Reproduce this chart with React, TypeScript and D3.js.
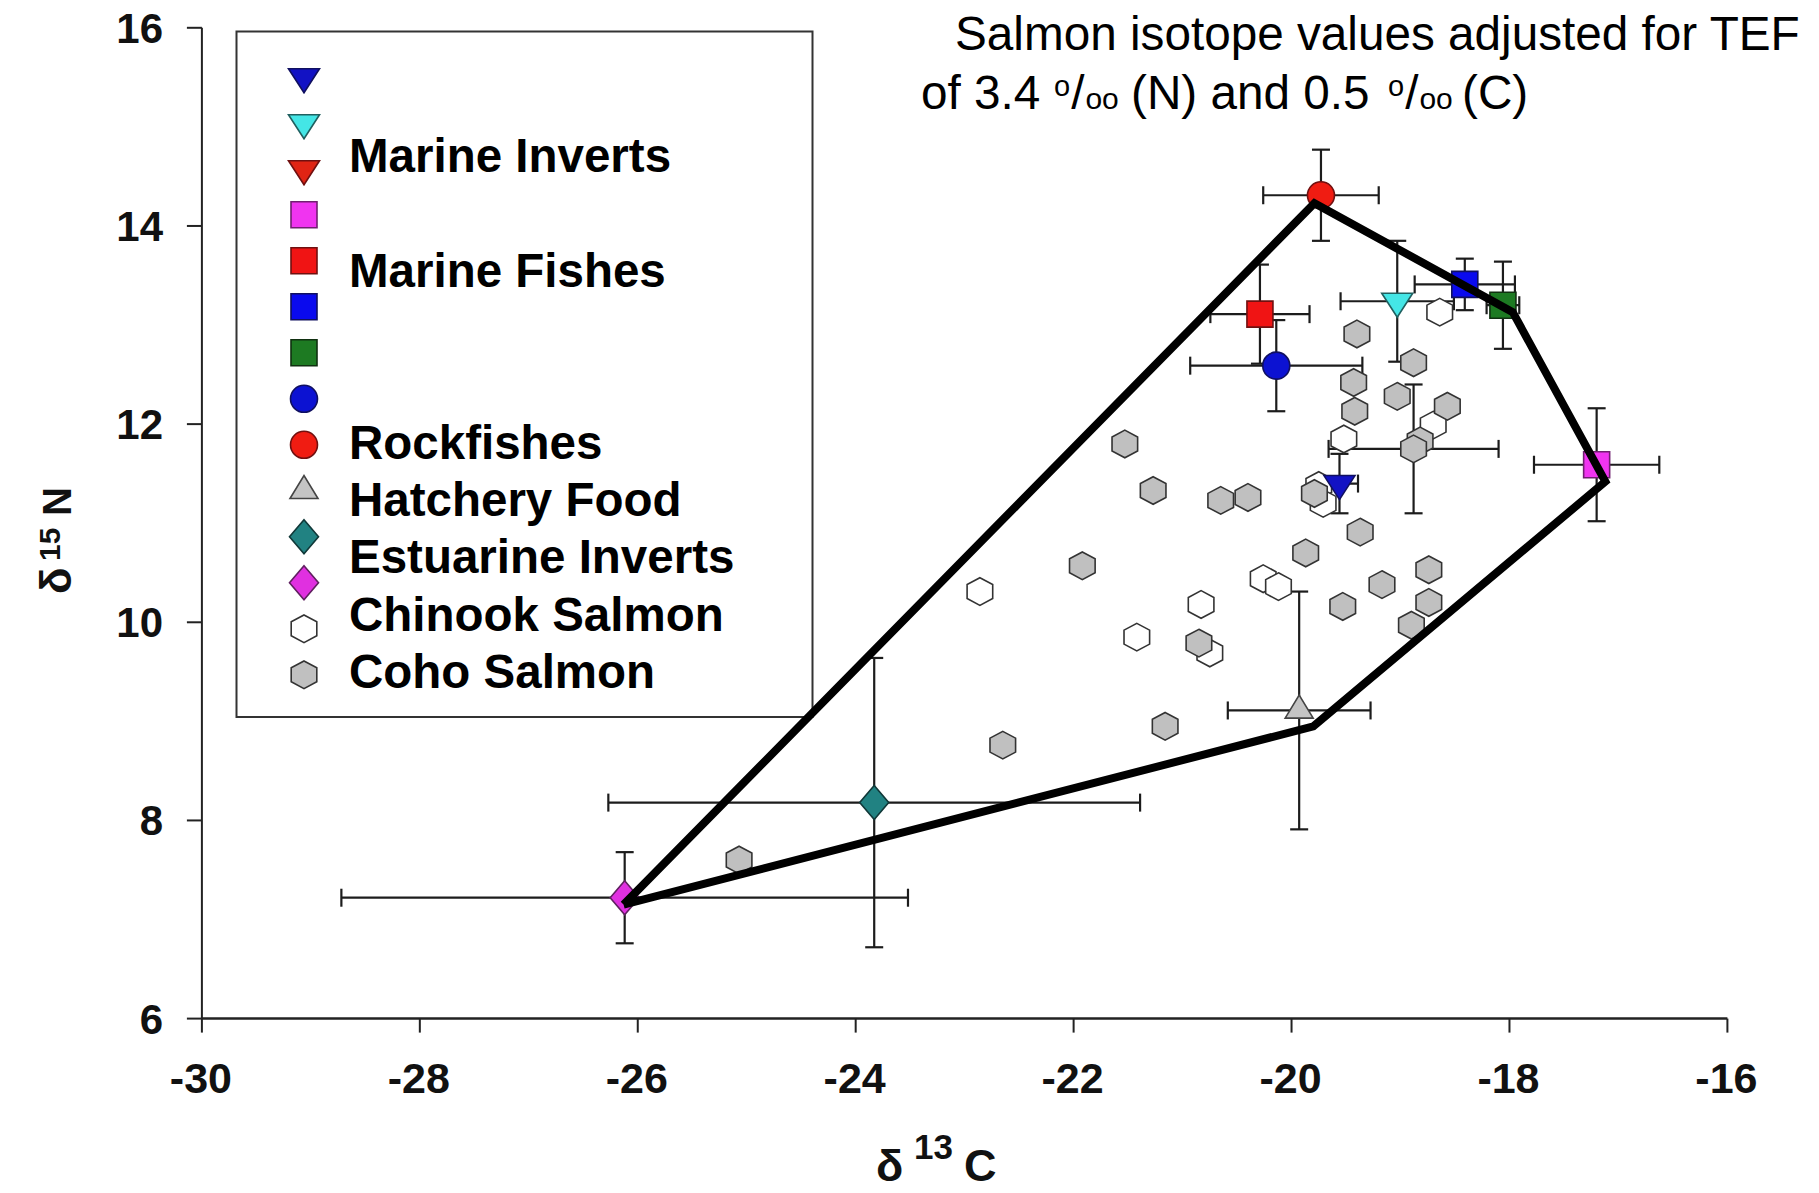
import React from "react";
import * as d3 from "d3";

// ---------- DATA ----------
const xTicks = [-30, -28, -26, -24, -22, -20, -18, -16];
const yTicks = [6, 8, 10, 12, 14, 16];

// Coho salmon (grey hexagons): d13C, d15N
const cohoC = [-19.40, -18.88, -19.43, -19.42, -19.03, -18.57, -18.82, -21.53, -21.27, -20.65, -20.40, -19.79, -19.37, -19.87, -21.92, -18.74, -19.17, -19.53, -18.74, -18.90, -20.85, -21.16, -22.65, -25.07];
const cohoN = [12.91, 12.62, 12.42, 12.13, 12.28, 12.18, 11.83, 11.80, 11.33, 11.23, 11.26, 11.30, 10.91, 10.70, 10.57, 10.53, 10.38, 10.16, 10.20, 9.97, 9.79, 8.95, 8.76, 7.60];
// Coho point carrying error bars
const cohoMeanC = [-18.88];
const cohoMeanCsd = [0.78];
const cohoMeanN = [11.75];
const cohoMeanNsd = [0.65];

// Chinook salmon (white hexagons)
const chinookC = [-18.64, -18.70, -19.52, -19.75, -19.71, -20.26, -20.12, -20.83, -22.86, -21.42, -20.75];
const chinookN = [13.13, 11.99, 11.85, 11.38, 11.20, 10.44, 10.36, 10.18, 10.31, 9.85, 9.69];

// Prey sources (mean +/- SD)
const sourceKeys = ["invBlue", "invCyan", "fishMagenta", "fishRed", "fishBlue", "fishGreen", "rockBlue", "rockRed", "hatchery", "estTeal", "estMagenta"];
const sourceC = [-19.56, -19.03, -17.20, -20.29, -18.41, -18.06, -20.14, -19.73, -19.93, -23.83, -26.12];
const sourceCsd = [0.17, 0.52, 0.575, 0.455, 0.46, 0.15, 0.79, 0.53, 0.655, 2.44, 2.6];
const sourceN = [11.40, 13.24, 11.59, 13.11, 13.41, 13.20, 12.59, 14.31, 9.11, 8.18, 7.22];
const sourceNsd = [0.30, 0.61, 0.57, 0.50, 0.26, 0.44, 0.46, 0.46, 1.20, 1.46, 0.46];

// Mixing polygon vertices
const hullC = [-26.13, -19.79, -17.97, -17.12, -19.80, -26.13];
const hullN = [7.15, 14.23, 13.13, 11.42, 8.95, 7.15];

// Legend
const legendKeys = ["invBlue", "invCyan", "invRed", "fishMagenta", "fishRed", "fishBlue", "fishGreen", "rockBlue", "rockRed", "hatchery", "estTeal", "estMagenta", "chinook", "coho"];
const legendLabels = ["Marine Inverts", "Marine Fishes", "Rockfishes", "Hatchery Food", "Estuarine Inverts", "Chinook Salmon", "Coho Salmon"];

// ---------- STYLES ----------
const styleOf: Record<string, { shape: string; fill: string; stroke: string }> = {
  invBlue: { shape: "triDown", fill: "#1212c4", stroke: "#101060" },
  invCyan: { shape: "triDown", fill: "#44e6e6", stroke: "#206060" },
  invRed: { shape: "triDown", fill: "#e02414", stroke: "#701010" },
  fishMagenta: { shape: "square", fill: "#f034f0", stroke: "#702070" },
  fishRed: { shape: "square", fill: "#f01414", stroke: "#701010" },
  fishBlue: { shape: "square", fill: "#0a0aee", stroke: "#101060" },
  fishGreen: { shape: "square", fill: "#1d7a22", stroke: "#103010" },
  rockBlue: { shape: "circle", fill: "#0c12d2", stroke: "#101060" },
  rockRed: { shape: "circle", fill: "#f01c12", stroke: "#701010" },
  hatchery: { shape: "triUp", fill: "#c4c4c4", stroke: "#444" },
  estTeal: { shape: "diamond", fill: "#218282", stroke: "#103838" },
  estMagenta: { shape: "diamond", fill: "#e030e0", stroke: "#602060" },
  chinook: { shape: "hex", fill: "#ffffff", stroke: "#333" },
  coho: { shape: "hex", fill: "#c0c0c0", stroke: "#333" },
};

function shapePath(shape: string, cx: number, cy: number): string {
  switch (shape) {
    case "triDown": {
      const w = 15.5, h = 24;
      return `M${cx - w},${cy - h / 3}L${cx + w},${cy - h / 3}L${cx},${cy + (2 * h) / 3}Z`;
    }
    case "triUp": {
      const w = 14, h = 23;
      return `M${cx - w},${cy + h / 3}L${cx + w},${cy + h / 3}L${cx},${cy - (2 * h) / 3}Z`;
    }
    case "square": {
      const s = 13;
      return `M${cx - s},${cy - s}H${cx + s}V${cy + s}H${cx - s}Z`;
    }
    case "diamond": {
      const w = 14.5, h = 17;
      return `M${cx},${cy - h}L${cx + w},${cy}L${cx},${cy + h}L${cx - w},${cy}Z`;
    }
    case "hex": {
      const w = 12.8, h = 13.8, s = 7;
      return `M${cx},${cy - h}L${cx + w},${cy - s}L${cx + w},${cy + s}L${cx},${cy + h}L${cx - w},${cy + s}L${cx - w},${cy - s}Z`;
    }
    case "circle":
    default: {
      const r = 13.5;
      return `M${cx - r},${cy}a${r},${r} 0 1,0 ${2 * r},0a${r},${r} 0 1,0 ${-2 * r},0Z`;
    }
  }
}

function Marker({ k, cx, cy }: { k: string; cx: number; cy: number }) {
  const st = styleOf[k];
  return <path d={shapePath(st.shape, cx, cy)} fill={st.fill} stroke={st.stroke} strokeWidth={1.6} />;
}

function ErrorBar({ cx, cy, x0, x1, y0, y1 }: { cx: number; cy: number; x0: number; x1: number; y0: number; y1: number }) {
  const cap = 9;
  const c = "#1c1c1c";
  return (
    <g stroke={c} strokeWidth={2.2} fill="none">
      <line x1={x0} x2={x1} y1={cy} y2={cy} />
      <line x1={x0} x2={x0} y1={cy - cap} y2={cy + cap} />
      <line x1={x1} x2={x1} y1={cy - cap} y2={cy + cap} />
      <line x1={cx} x2={cx} y1={y0} y2={y1} />
      <line x1={cx - cap} x2={cx + cap} y1={y0} y2={y0} />
      <line x1={cx - cap} x2={cx + cap} y1={y1} y2={y1} />
    </g>
  );
}

export default function App() {
  const W = 1819, H = 1193;
  const x = d3.scaleLinear().domain([-30, -16]).range([201.9, 1727.4]);
  const y = d3.scaleLinear().domain([6, 16]).range([1018.6, 27.8]);
  const font = "'Liberation Sans', Arial, Helvetica, sans-serif";

  const hullPts: [number, number][] = hullC.map((c, i) => [x(c), y(hullN[i])]);
  const hullPath = d3.line()(hullPts) || "";

  // legend layout
  const legX = 304, legY0 = 76.8, legStep = 46;
  const labelX = 349;
  const labelBaselines = [171.5, 286.5, 458.5, 516, 573, 631, 688];

  const permil = (key: string, x0: number) => [
    <tspan key={key + "a"} x={x0} fontSize={29} dy={-13}>o</tspan>,
    <tspan key={key + "b"} dy={13} dx={1}>/</tspan>,
    <tspan key={key + "c"} fontSize={30} dx={1}>oo</tspan>,
  ];

  return (
    <div style={{ position: "absolute", left: 0, top: 0, width: W, height: H, background: "#fff" }}>
      <svg width={W} height={H} style={{ display: "block" }} fontFamily={font}>
        <rect x={0} y={0} width={W} height={H} fill="#fff" />

        {/* axes */}
        <line x1={x(-30)} x2={x(-30)} y1={y(16)} y2={y(6)} stroke="#222" strokeWidth={2} />
        <line x1={x(-30)} x2={x(-16)} y1={y(6)} y2={y(6)} stroke="#222" strokeWidth={2.5} />
        {yTicks.map((t) => (
          <g key={"yt" + t}>
            <line x1={x(-30) - 15} x2={x(-30)} y1={y(t)} y2={y(t)} stroke="#222" strokeWidth={2} />
            <text x={163} y={y(t) + 15} textAnchor="end" fontSize={42} fontWeight="bold" fill="#111">{t}</text>
          </g>
        ))}
        {xTicks.map((t) => (
          <g key={"xt" + t}>
            <line x1={x(t)} x2={x(t)} y1={y(6)} y2={y(6) + 14} stroke="#222" strokeWidth={2} />
            <text x={x(t) - 1} y={1093} textAnchor="middle" fontSize={43} fontWeight="bold" fill="#111">{t}</text>
          </g>
        ))}

        {/* axis titles */}
        <text y={1181} fontSize={45} fontWeight="bold" fill="#111">
          <tspan x={876}>δ</tspan>
          <tspan x={914} fontSize={35} dy={-22}>13</tspan>
          <tspan x={964} dy={22} fontSize={45}>C</tspan>
        </text>
        <text transform="translate(71,594) rotate(-90)" fontSize={44} fontWeight="bold" fill="#111">
          <tspan x={0}>δ</tspan>
          <tspan x={33} fontSize={30} dy={-11}>15</tspan>
          <tspan x={78} dy={11} fontSize={40}>N</tspan>
        </text>

        {/* legend */}
        <rect x={236.5} y={31.5} width={576} height={685.5} fill="#fff" stroke="#333" strokeWidth={2} />
        {legendKeys.map((k, i) => (
          <Marker key={"lg" + k} k={k} cx={legX} cy={legY0 + i * legStep} />
        ))}
        {legendLabels.map((l, i) => (
          <text key={"ll" + l} x={labelX} y={labelBaselines[i]} fontSize={47.5} fontWeight="bold" fill="#000">{l}</text>
        ))}

        {/* title */}
        <text x={955} y={50} fontSize={47.7} fill="#000">Salmon isotope values adjusted for TEF</text>
        <text y={109} fontSize={47.7} fill="#000">
          <tspan x={921}>of 3.4</tspan>
          {permil("n", 1054)}
          <tspan x={1131}>(N) and 0.5</tspan>
          {permil("c", 1388)}
          <tspan x={1462}>(C)</tspan>
        </text>

        {/* error bars */}
        {sourceKeys.map((k, i) => (
          <ErrorBar
            key={"eb" + k}
            cx={x(sourceC[i])}
            cy={y(sourceN[i])}
            x0={x(sourceC[i] - sourceCsd[i])}
            x1={x(sourceC[i] + sourceCsd[i])}
            y0={y(sourceN[i] + sourceNsd[i])}
            y1={y(sourceN[i] - sourceNsd[i])}
          />
        ))}
        {cohoMeanC.map((c, i) => (
          <ErrorBar
            key={"ebc" + i}
            cx={x(c)}
            cy={y(cohoMeanN[i])}
            x0={x(c - cohoMeanCsd[i])}
            x1={x(c + cohoMeanCsd[i])}
            y0={y(cohoMeanN[i] + cohoMeanNsd[i])}
            y1={y(cohoMeanN[i] - cohoMeanNsd[i])}
          />
        ))}

        {/* salmon */}
        {chinookC.map((c, i) => (
          <Marker key={"ch" + i} k="chinook" cx={x(c)} cy={y(chinookN[i])} />
        ))}
        {cohoC.map((c, i) => (
          <Marker key={"co" + i} k="coho" cx={x(c)} cy={y(cohoN[i])} />
        ))}
        {cohoMeanC.map((c, i) => (
          <Marker key={"cm" + i} k="coho" cx={x(c)} cy={y(cohoMeanN[i])} />
        ))}

        {/* sources */}
        {sourceKeys.map((k, i) => (
          <Marker key={"src" + k} k={k} cx={x(sourceC[i])} cy={y(sourceN[i])} />
        ))}

        {/* mixing polygon */}
        <path d={hullPath} fill="none" stroke="#000" strokeWidth={8} strokeLinejoin="miter" strokeMiterlimit={4} />
      </svg>
    </div>
  );
}
